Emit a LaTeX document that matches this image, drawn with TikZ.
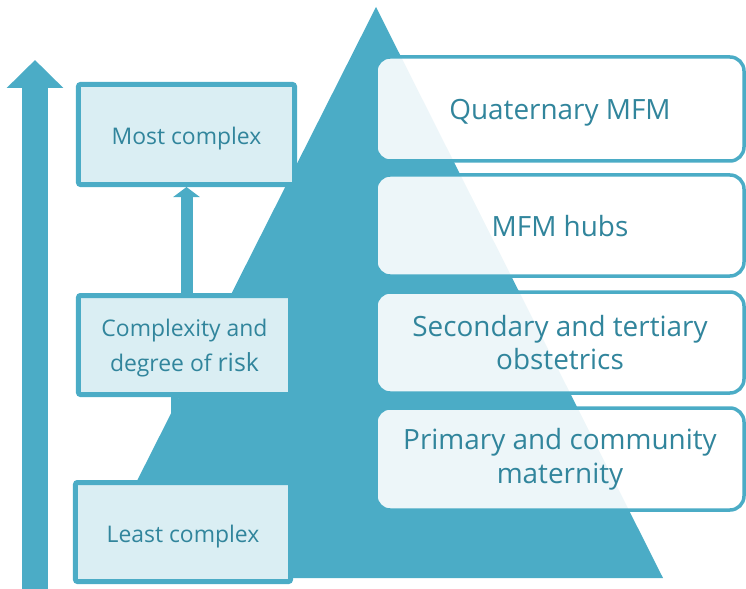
\documentclass[tikz,border=0pt]{standalone}
\usepackage{fontspec}
\setmainfont{Open Sans}
\usetikzlibrary{arrows.meta}
\definecolor{teal5}{HTML}{4BACC6}
\definecolor{lightfill}{HTML}{DAEEF3}
\definecolor{textteal}{HTML}{31859C}
\tikzset{
  lbox/.style={draw=teal5, line width=5bp, fill=lightfill, rounded corners=2bp,
    inner sep=0pt, text=textteal, align=center,
    font=\fontsize{23}{35}\selectfont},
  rbox/.style={draw=teal5, line width=3.5bp, fill=white, fill opacity=0.9,
    text opacity=1, rounded corners=14bp, inner sep=0pt, minimum width=368bp,
    text=textteal, align=center, font=\fontsize{28}{34}\selectfont},
  oneline/.style={text height=21bp, text depth=0pt},
  bigarrow/.style={draw=teal5, line width=26bp, -{Triangle[length=28bp,width=55bp]}},
  smallarrow/.style={draw=teal5, line width=12bp, -{Triangle[length=10bp,width=26bp]}}
}
\begin{document}
\begin{tikzpicture}[x=1bp,y=-1bp]
\useasboundingbox (0,0) rectangle (746,589);
% big arrow
\coordinate (bigfoot) at (35,595);
\coordinate (bigtip) at (35,60);
\draw[bigarrow] (bigfoot) -- (bigtip);
% pyramid
\coordinate (apex) at (376,7);
\coordinate (bl) at (88,578);
\coordinate (br) at (663,578);
\fill[teal5] (apex) -- (br) -- (bl) -- cycle;
\fill[teal5] (171,396) -- (180,396) -- (171,415) -- cycle;
% left boxes
\node[lbox, oneline, minimum width=216bp, minimum height=100bp] (mc) at (186.5,134.5) {Most complex};
\node[lbox, minimum width=212bp, minimum height=99bp] (cx) at (184.5,345) {\rule{0pt}{23bp}Complexity and\\degree of {\fontsize{25}{35}\selectfont risk}};
\node[lbox, oneline, minimum width=215bp, minimum height=99bp] (lc) at (183,532) {Least complex};
% small arrow
\draw[smallarrow] (mc.south |- cx.north) -- (mc.south);
% right boxes
\node[rbox, oneline, minimum height=104bp] (q) at (560,109) {Quaternary MFM};
\node[rbox, oneline, minimum height=101bp] (h) at (560,225.5) {MFM hubs};
\node[rbox, minimum height=101bp] (s) at (560,342.5) {Secondary and tertiary\\obstetrics};
\node[rbox, minimum height=102bp] (p) at (560,459) {Primary and community\\maternity};
\end{tikzpicture}
\end{document}
